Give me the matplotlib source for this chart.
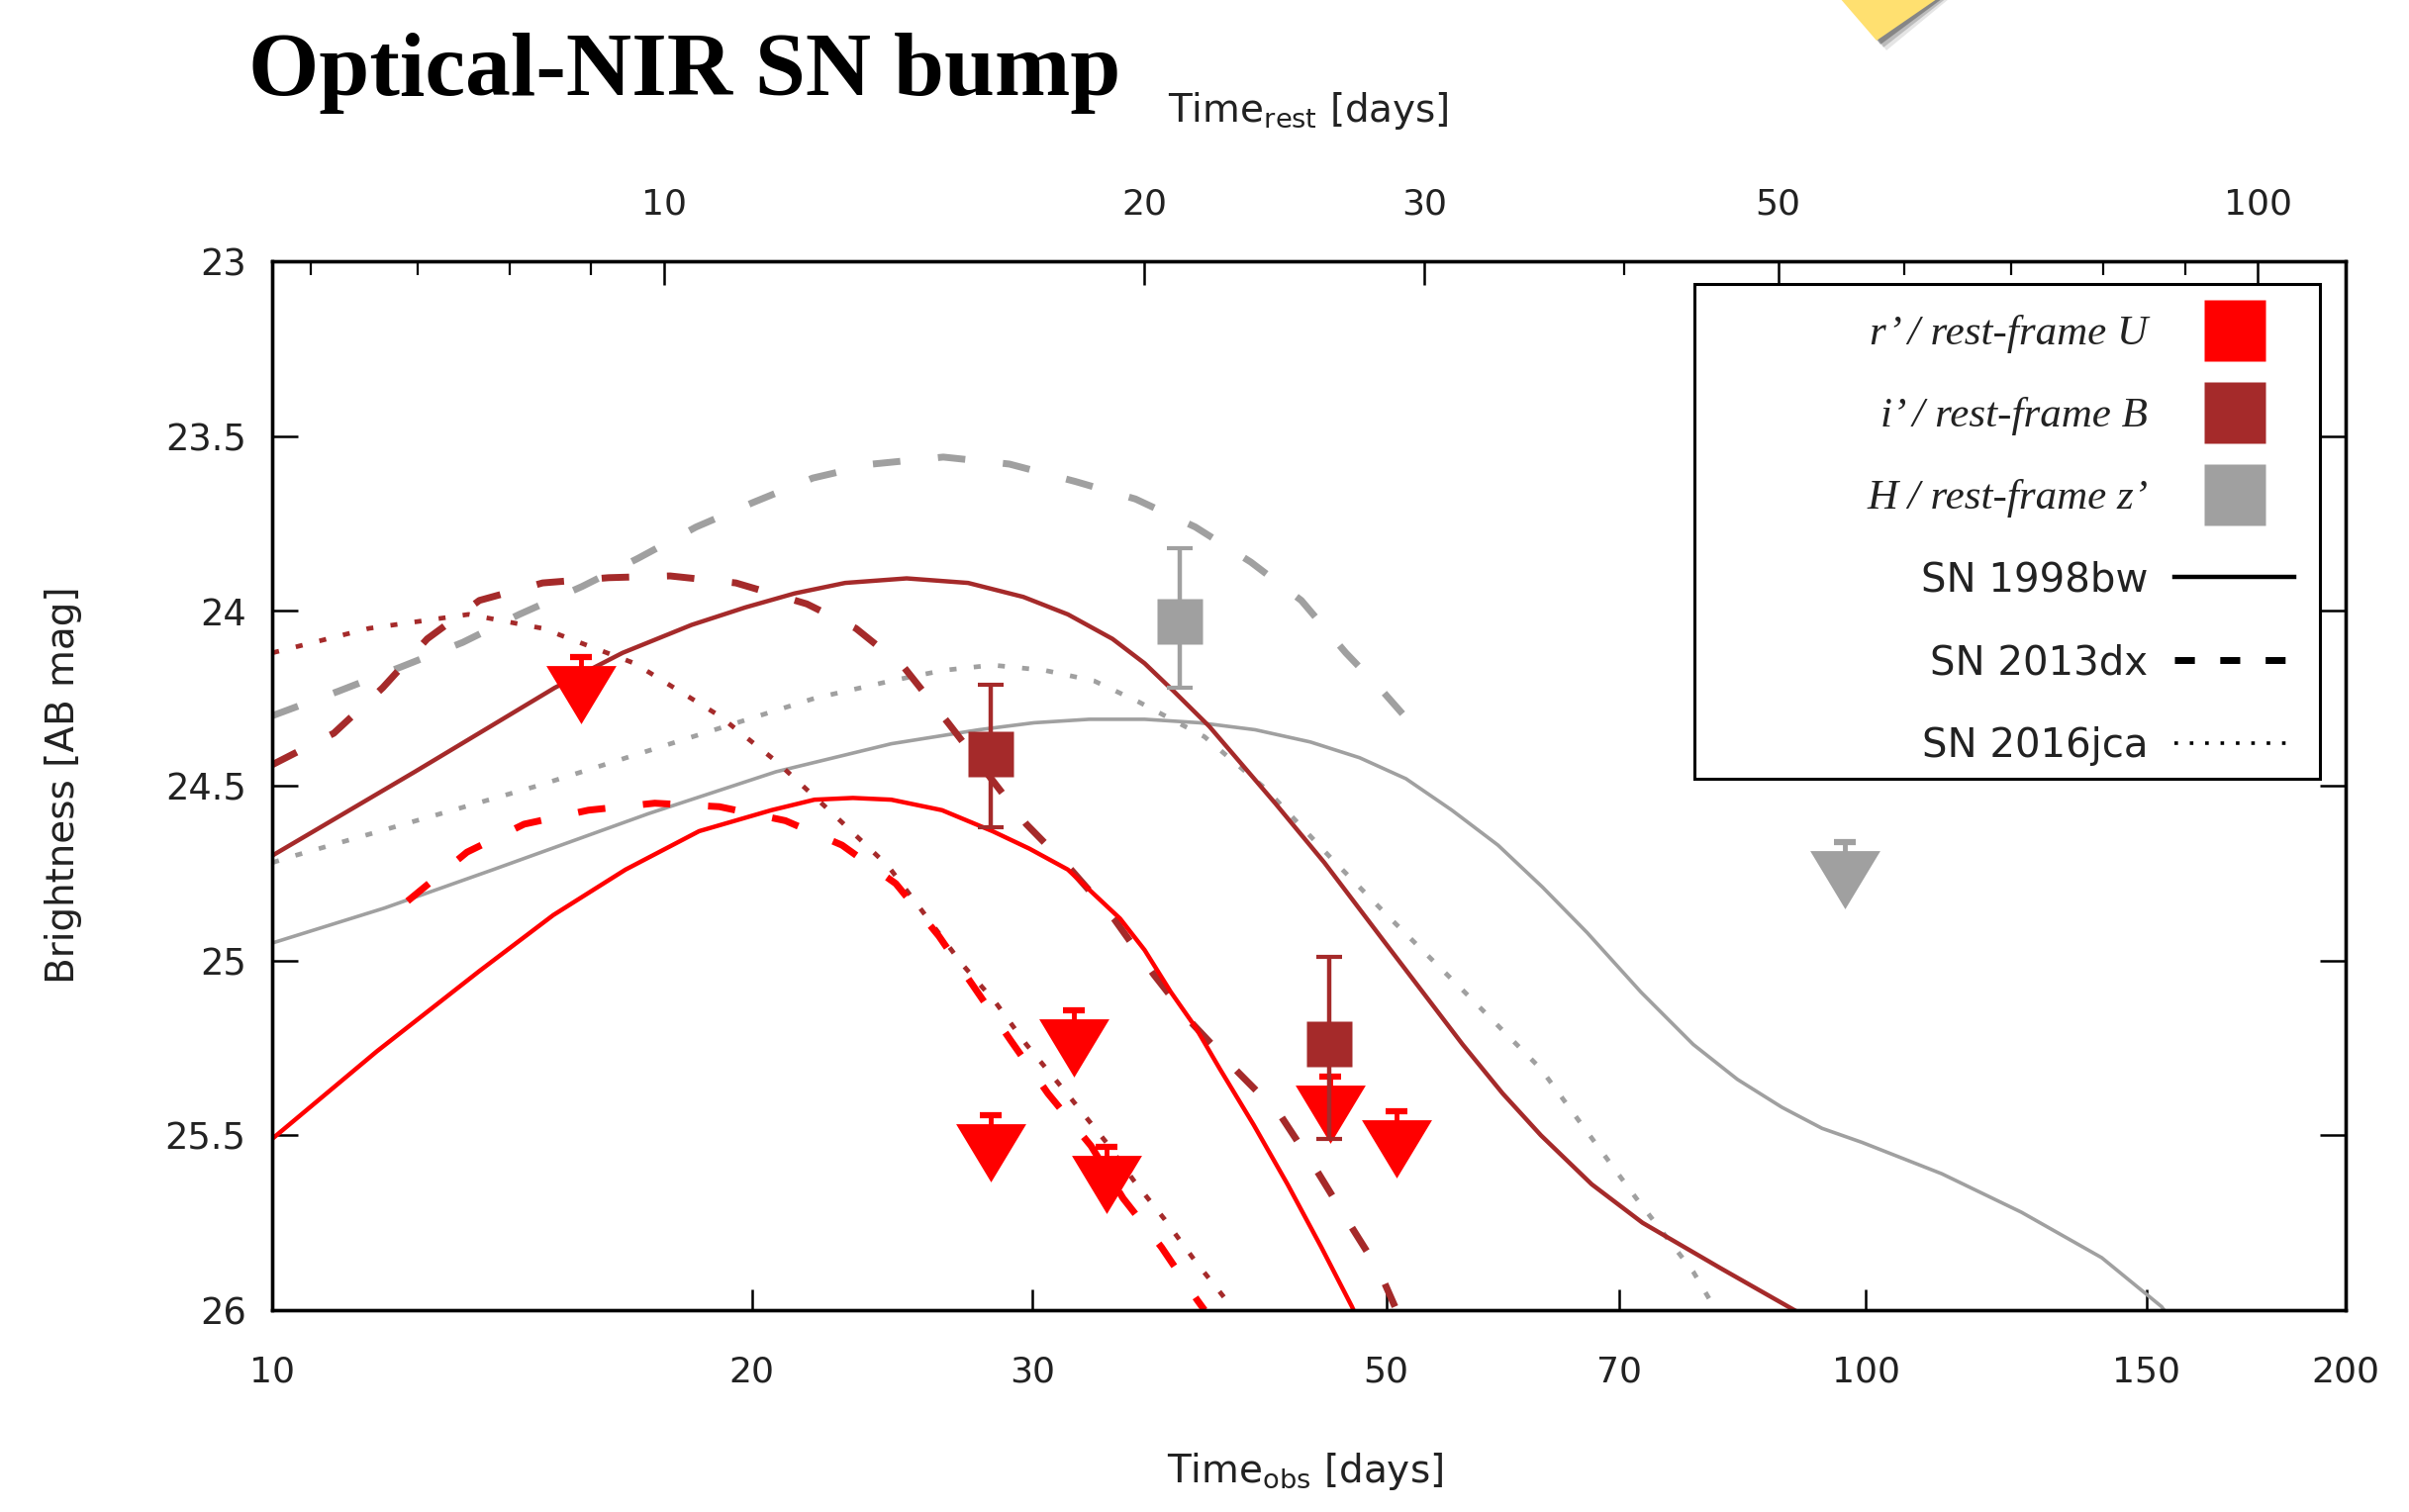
import matplotlib
matplotlib.use("Agg")
import matplotlib.pyplot as plt
from matplotlib.lines import Line2D
from matplotlib.patches import Polygon, Rectangle
from matplotlib.ticker import NullFormatter, NullLocator

plt.rcParams["font.family"] = "DejaVu Sans"
plt.rcParams["mathtext.fontset"] = "dejavusans"

ONE_PLUS_Z = 1.762          # t_obs / t_rest

RED = "#ff0000"
BROWN = "#a52a2a"
GREY = "#a0a0a0"
TEXT = "#222222"

# ----------------------------
# SN templates at the burst redshift (t_obs [d], AB mag)
# ----------------------------

# SN 1998bw
bw98_r_t = [10.0, 11.63, 13.49, 15.01, 16.66, 18.53, 20.57, 21.89, 23.14, 24.46, 26.32, 28.31, 29.86,
            31.57, 32.78, 34.04, 35.27, 36.63, 37.95, 39.32, 41.29, 43.36, 45.53, 47.59, 47.91]
bw98_r_m = [25.51, 25.26, 25.03, 24.87, 24.74, 24.63, 24.57, 24.54, 24.535, 24.54, 24.57, 24.63, 24.68,
            24.74, 24.81, 24.88, 24.97, 25.09, 25.19, 25.31, 25.47, 25.64, 25.82, 25.99, 26.02]

bw98_i_t = [10.0, 12.29, 15.04, 16.59, 18.33, 19.81, 21.27, 22.88, 25.01, 27.33, 29.60, 31.57, 33.67,
            35.27, 36.79, 38.72, 42.59, 45.73, 49.75, 55.84, 59.16, 62.53, 67.29, 72.41, 81.06, 90.18,
            92.62]
bw98_i_m = [24.70, 24.46, 24.22, 24.12, 24.04, 23.99, 23.95, 23.92, 23.907, 23.92, 23.96, 24.01, 24.08,
            24.15, 24.23, 24.33, 24.55, 24.72, 24.94, 25.24, 25.38, 25.50, 25.64, 25.75, 25.88, 26.00,
            26.03]

bw98_H_t = [10.0, 11.76, 13.76, 17.22, 20.71, 24.46, 27.76, 30.06, 32.56, 35.27, 38.20, 41.38, 44.82,
            48.12, 51.45, 54.98, 58.77, 62.67, 66.84, 72.24, 77.92, 83.06, 88.59, 93.86, 99.42, 111.6,
            125.2, 140.6, 153.3, 155.0]
bw98_H_m = [24.95, 24.85, 24.74, 24.58, 24.46, 24.38, 24.34, 24.32, 24.31, 24.31, 24.32, 24.34, 24.375,
            24.42, 24.48, 24.57, 24.67, 24.79, 24.92, 25.09, 25.24, 25.34, 25.42, 25.48, 25.52, 25.61,
            25.72, 25.85, 25.99, 26.02]

# SN 2013dx
dx13_r_t = [12.16, 13.25, 14.39, 15.79, 17.38, 19.08, 20.99, 22.78, 24.62, 26.20, 27.51, 29.08, 30.67,
            32.64, 34.19, 36.14, 38.04, 38.46]
dx13_r_m = [24.83, 24.69, 24.61, 24.57, 24.55, 24.56, 24.60, 24.67, 24.78, 24.93, 25.07, 25.23, 25.38,
            25.53, 25.68, 25.82, 25.97, 26.00]

dx13_i_t = [10.0, 10.93, 11.73, 12.51, 13.49, 14.78, 16.26, 17.77, 19.54, 21.65, 23.24, 24.90, 26.55,
            29.73, 31.71, 33.74, 35.74, 37.78, 40.38, 42.88, 45.22, 47.38, 49.53, 50.64]
dx13_i_m = [24.44, 24.35, 24.22, 24.08, 23.97, 23.92, 23.905, 23.90, 23.92, 23.98, 24.05, 24.16, 24.32,
            24.61, 24.74, 24.88, 25.04, 25.18, 25.32, 25.44, 25.60, 25.75, 25.89, 25.99]

dx13_H_t = [10.0, 11.00, 12.05, 13.17, 14.29, 15.65, 16.96, 18.45, 20.03, 21.84, 23.81, 26.37, 29.01,
            31.92, 34.81, 37.95, 41.11, 44.23, 47.17, 49.75, 52.95]
dx13_H_m = [24.30, 24.23, 24.16, 24.09, 24.01, 23.93, 23.85, 23.76, 23.69, 23.62, 23.58, 23.56, 23.58,
            23.63, 23.68, 23.76, 23.86, 23.97, 24.12, 24.23, 24.37]

# SN 2016jca
jca16_i_t = [10.0, 11.50, 13.28, 14.78, 16.88, 19.08, 20.71, 22.48, 24.35, 25.40, 27.09, 28.44, 29.73,
             31.78, 33.37, 34.73, 36.30, 37.95, 39.67, 40.11]
jca16_i_m = [24.12, 24.05, 24.01, 24.05, 24.15, 24.30, 24.43, 24.58, 24.73, 24.84, 25.01, 25.12, 25.24,
             25.40, 25.52, 25.63, 25.74, 25.86, 25.97, 26.00]

jca16_H_t = [10.0, 10.33, 14.68, 18.95, 21.89, 24.46, 26.37, 28.31, 30.53, 32.78, 34.96, 38.46, 42.04,
             46.24, 50.31, 55.72, 62.53, 66.10, 71.76, 77.92, 80.52]
jca16_H_m = [24.72, 24.70, 24.50, 24.34, 24.25, 24.20, 24.17, 24.155, 24.17, 24.20, 24.26, 24.36, 24.51,
             24.71, 24.88, 25.08, 25.31, 25.46, 25.68, 25.89, 26.00]

# ----------------------------
# Photometry
# ----------------------------

r_lim_t = [15.62, 28.25, 31.85, 33.37, 46.13, 50.76]      # r' upper limits
r_lim_m = [24.24, 25.55, 25.25, 25.64, 25.44, 25.54]

i_det_t = [28.25, 46.03]                                  # i' detections
i_det_m = [24.41, 25.24]
i_err_lo = [0.20, 0.25]
i_err_hi = [0.21, 0.27]

H_det_t = [37.12]                                         # H detection
H_det_m = [24.03]
H_err_lo = [0.21]
H_err_hi = [0.19]

H_lim_t = [97.02]                                         # H upper limit
H_lim_m = [24.77]

obs_ticks = [10, 20, 30, 50, 70, 100, 150, 200]
rest_ticks = [10, 20, 30, 50, 100]
rest_minor = [6, 7, 8, 9, 40, 60, 70, 80, 90]
mag_ticks = [23, 23.5, 24, 24.5, 25, 25.5, 26]

legend_labels = ["r’ / rest-frame U", "i’ / rest-frame B", "H / rest-frame z’",
                 "SN 1998bw", "SN 2013dx", "SN 2016jca"]

# ----------------------------
# Figure
# ----------------------------

W, H = 2434, 1528
fig = plt.figure(figsize=(W / 100, H / 100), dpi=100)
fig.patch.set_facecolor("white")
ax = fig.add_axes([0.1130, 0.1335, 0.8607, 0.6937])

SOLID = dict(lw=3.2, solid_capstyle="butt")
SOLID_THIN = dict(lw=2.6, solid_capstyle="butt")
DASHED = dict(lw=5.0, dashes=(4.0, 5.5), dash_capstyle="butt")
DOTTED = dict(lw=3.4, dashes=(1.5, 3.7), dash_capstyle="butt")

templates = [
    (bw98_H_t, bw98_H_m, GREY, SOLID_THIN),
    (jca16_H_t, jca16_H_m, GREY, DOTTED),
    (dx13_H_t, dx13_H_m, GREY, DASHED),
    (bw98_i_t, bw98_i_m, BROWN, SOLID),
    (dx13_i_t, dx13_i_m, BROWN, DASHED),
    (jca16_i_t, jca16_i_m, BROWN, DOTTED),
    (bw98_r_t, bw98_r_m, RED, SOLID),
    (dx13_r_t, dx13_r_m, RED, DASHED),
]
for t, m, c, style in templates:
    ax.plot(t, m, color=c, zorder=2, **style)

# down-pointing triangle a bit flatter than it is wide
TRI = [(-1, 0.83), (1, 0.83), (0, -0.83)]
LIM_BAR = 0.108

ax.errorbar(r_lim_t, r_lim_m, yerr=[[LIM_BAR] * len(r_lim_t), [0] * len(r_lim_t)], fmt="none",
            ecolor=RED, elinewidth=3.5, capsize=8, capthick=4.5, zorder=3)
ax.plot(r_lim_t, r_lim_m, ls="none", marker=TRI, ms=51, mfc=RED, mec="none", zorder=3)

ax.errorbar(H_lim_t, H_lim_m, yerr=[[LIM_BAR], [0]], fmt="none",
            ecolor=GREY, elinewidth=3.5, capsize=8, capthick=4.5, zorder=3)
ax.plot(H_lim_t, H_lim_m, ls="none", marker=TRI, ms=51, mfc=GREY, mec="none", zorder=3)

ax.errorbar(i_det_t, i_det_m, yerr=[i_err_lo, i_err_hi], fmt="s", ms=33, color=BROWN, mec="none",
            elinewidth=3.2, capsize=9.5, capthick=3, zorder=4)
ax.errorbar(H_det_t, H_det_m, yerr=[H_err_lo, H_err_hi], fmt="s", ms=33, color=GREY, mec="none",
            elinewidth=3.2, capsize=9.5, capthick=3, zorder=4)

# axes
ax.set_xscale("log")
ax.set_xlim(10, 200)
ax.set_ylim(26, 23)
ax.set_xticks(obs_ticks, labels=[str(v) for v in obs_ticks])
ax.xaxis.set_minor_locator(NullLocator())
ax.set_yticks(mag_ticks, labels=[f"{v:g}" for v in mag_ticks])
ax.tick_params(axis="x", which="major", direction="in", length=15, width=1.8,
               labelsize=26, pad=33, labelcolor=TEXT)
ax.tick_params(axis="y", which="major", direction="in", length=19, width=1.8, left=True, right=True,
               labelsize=26.5, pad=19, labelcolor=TEXT)
for s in ax.spines.values():
    s.set_linewidth(2.4)

top = ax.twiny()
top.set_xscale("log")
top.set_xlim(10 / ONE_PLUS_Z, 200 / ONE_PLUS_Z)
top.set_xticks(rest_ticks, labels=[str(v) for v in rest_ticks])
top.set_xticks(rest_minor, minor=True)
top.xaxis.set_minor_formatter(NullFormatter())
top.tick_params(axis="x", which="major", direction="in", length=17, width=1.8,
                labelsize=26, pad=29, labelcolor=TEXT)
top.tick_params(axis="x", which="minor", direction="in", length=10, width=1.6)
for s in top.spines.values():
    s.set_linewidth(2.4)

# legend box
ax.add_patch(Rectangle((0.6859, 0.5066), 0.3017, 0.4717, transform=ax.transAxes,
                       facecolor="white", edgecolor="black", lw=2.2, zorder=4.5))
handles = [
    Line2D([], [], ls="none", marker="s", ms=44, mfc=RED, mec="none"),
    Line2D([], [], ls="none", marker="s", ms=44, mfc=BROWN, mec="none"),
    Line2D([], [], ls="none", marker="s", ms=44, mfc=GREY, mec="none"),
    Line2D([], [], color="black", lw=3.2),
    Line2D([], [], color="black", lw=5, dashes=(2.9, 3.7), dash_capstyle="butt"),
    Line2D([], [], color="black", lw=2.6, dashes=(1.0, 3.3), dash_capstyle="butt"),
]
leg = ax.legend(handles, legend_labels, loc="upper right", bbox_to_anchor=(0.9752, 0.9492),
                frameon=False, markerfirst=False, fontsize=29, handlelength=3.0,
                handletextpad=0.67, labelspacing=1.09, borderpad=0, borderaxespad=0)
leg.set_zorder(5)
for k, txt in enumerate(leg.get_texts()):
    txt.set_color(TEXT)
    if k < 3:
        txt.set_fontfamily("Liberation Serif")
        txt.set_fontstyle("italic")
        txt.set_fontsize(31)

# labels
fig.text(251 / W, 1 - 96 / H, "Optical-NIR SN bump", fontfamily="Liberation Serif",
         fontweight="bold", fontsize=66, va="baseline", ha="left", color="black")
fig.text(1322 / W, 1 - 112 / H, r"Time$_{\mathrm{rest}}$ [days]", fontsize=28,
         ha="center", va="center", color=TEXT)
fig.text(1319 / W, 1 - 1487 / H, r"Time$_{\mathrm{obs}}$ [days]", fontsize=28,
         ha="center", va="center", color=TEXT)
fig.text(64 / W, 1 - 793 / H, "Brightness [AB mag]", fontsize=28, rotation=90,
         ha="center", va="center", color=TEXT)

# yellow pointer peeking in at the top edge, with a soft shadow
for dx, alpha in [(10, 0.10), (7, 0.18), (4, 0.28)]:
    fig.patches.append(Polygon([((1852 + dx) / W, 1 + 10 / H), ((1896 + dx) / W, 1 - (41 + dx) / H),
                                ((1970 + dx) / W, 1 + 10 / H)], closed=True, transform=fig.transFigure,
                               facecolor="black", edgecolor="none", alpha=alpha, figure=fig))
fig.patches.append(Polygon([(1852 / W, 1 + 10 / H), (1896 / W, 1 - 41 / H), (1970 / W, 1 + 10 / H)],
                           closed=True, transform=fig.transFigure, facecolor="#ffe070",
                           edgecolor="none", figure=fig))

fig.savefig("out.png", dpi=100, facecolor="white")
